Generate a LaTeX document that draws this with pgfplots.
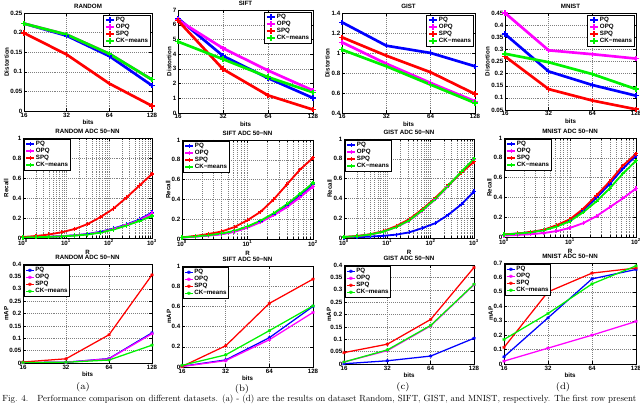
\documentclass[border=0pt]{standalone}
\usepackage{graphicx}
\usepackage{fontspec}
\usepackage{pgfplots}
\pgfplotsset{compat=1.18}
\newfontfamily\axfam{Liberation Sans}
\newcommand\axfont{\axfam\bfseries\fontsize{4.4}{5}\selectfont}
\definecolor{mblue}{rgb}{0,0,1}
\definecolor{mmag}{rgb}{1,0,1}
\definecolor{mred}{rgb}{1,0,0}
\definecolor{mgreen}{rgb}{0,0.95,0}

\tikzset{
  pq/.style={color=mblue}, opq/.style={color=mmag}, spq/.style={color=mred}, ck/.style={color=mgreen},
  ra/.style={line width=1.9pt, mark=+, mark size=1.9pt, mark options={line width=1.1pt}},
  rb/.style={line width=1.3pt, mark=+, mark size=1.5pt, mark options={line width=0.8pt}},
  rc/.style={line width=0.9pt, mark=asterisk, mark size=1.2pt, mark options={line width=0.6pt}},
}

\pgfplotsset{
  panel/.style={
    scale only axis, anchor=south west,
    font=\axfont,
    /pgf/number format/assume math mode=true,
    scaled ticks=false,
    yticklabel style={/pgf/number format/fixed, /pgf/number format/precision=2, inner sep=1pt},
    xticklabel style={inner sep=1pt},
    tick align=inside, major tick length=0.07cm, minor tick length=0.04cm,
    axis line style={line width=0.4pt},
    every tick/.style={black, line width=0.3pt},
    grid style={densely dotted, black!50, line width=0.3pt},
    every axis title/.style={at={(0.5,1)}, anchor=center, yshift=0.16cm, font=\axfont},
    every axis x label/.style={at={(axis description cs:0.5,0)}, anchor=center, yshift=-0.28cm, font=\axfont},
    legend style={draw=black, line width=0.3pt, fill=white, font=\axfont,
      inner sep=0.6pt, row sep=-0.8pt, nodes={inner sep=0.6pt}},
    legend cell align=left,
    legend image code/.code={\draw[mark repeat=2, mark phase=2, ##1]
      plot coordinates {(0cm,0cm) (0.1cm,0cm) (0.2cm,0cm)};},
  },
  ylab/.style={every axis y label/.style={at={(axis description cs:#1,0.5)},
      rotate=90, anchor=center, font=\axfont}},
  bitsax/.style={xmin=16, xmax=128,
    xtick={16,32,64,128}, xticklabels={16,32,64,128}, minor xtick={},
    xmajorgrids, ymajorgrids, xlabel={bits}},
  rkax/.style={xmin=1, xmax=1000, xtick={1,10,100,1000},
    xticklabels={10\textsuperscript{0},10\textsuperscript{1},10\textsuperscript{2},10\textsuperscript{3}},
    minor xtick={2,3,4,5,6,7,8,9,20,30,40,50,60,70,80,90,200,300,400,500,600,700,800,900},
    xmajorgrids, xminorgrids, ymajorgrids, xlabel={R},
    xlabel style={yshift=-0.07cm},
    ymin=0, ymax=1, ytick={0,0.2,0.4,0.6,0.8,1}},
  rhax/.style={xmin=1, xmax=100, xtick={1,10,100},
    xticklabels={10\textsuperscript{0},10\textsuperscript{1},10\textsuperscript{2}},
    minor xtick={2,3,4,5,6,7,8,9,20,30,40,50,60,70,80,90},
    xmajorgrids, xminorgrids, ymajorgrids, xlabel={R},
    xlabel style={yshift=-0.07cm},
    ymin=0, ymax=1, ytick={0,0.2,0.4,0.6,0.8,1}},
  legNE/.style={legend style={at={(1,1)}, anchor=north east, xshift=-0.05cm, yshift=-0.05cm}},
  legNW/.style={legend style={at={(0,1)}, anchor=north west, xshift=0.03cm, yshift=-0.03cm}},
}

\begin{document}
\begin{tikzpicture}
\useasboundingbox (0,0) rectangle (16cm,10.225cm);

% ---------------- row 1: distortion ----------------
\begin{axis}[panel, xmode=log, log basis x=2, bitsax, legNE, ylab=-0.135, at={(0.6cm,7.45cm)}, width=3.2cm, height=2.45cm,
  title={RANDOM}, ylabel={Distortion}, ymin=0, ymax=0.25, ytick={0,0.05,...,0.25}]
\addplot[pq,ra] coordinates {(16,0.223) (32,0.192) (64,0.140) (128,0.065)};
\addplot[opq,ra] coordinates {(16,0.223) (32,0.195) (64,0.146) (128,0.080)};
\addplot[spq,ra] coordinates {(16,0.199) (32,0.144) (64,0.070) (128,0.013)};
\addplot[ck,ra] coordinates {(16,0.223) (32,0.195) (64,0.146) (128,0.080)};
\legend{PQ,OPQ,SPQ,CK−means}
\end{axis}

\begin{axis}[panel, xmode=log, log basis x=2, bitsax, legNE, ylab=-0.065, at={(4.45cm,7.4cm)}, width=3.375cm, height=2.575cm,
  title={SIFT}, ylabel={Distortion}, ymin=0, ymax=7, ytick={0,1,...,7}]
\addplot[pq,ra] coordinates {(16,6.43) (32,3.88) (64,2.37) (128,1.02)};
\addplot[opq,ra] coordinates {(16,6.32) (32,4.40) (64,2.89) (128,1.53)};
\addplot[spq,ra] coordinates {(16,6.28) (32,2.98) (64,1.20) (128,0.23)};
\addplot[ck,ra] coordinates {(16,4.85) (32,3.66) (64,2.44) (128,1.40)};
\legend{PQ,OPQ,SPQ,CK−means}
\node[font=\axfont, anchor=south west, inner sep=0.5pt] at (rel axis cs:0.0,1) {x 10\textsuperscript{4}};
\end{axis}

\begin{axis}[panel, xmode=log, log basis x=2, bitsax, legNE, ylab=-0.11, at={(8.55cm,7.4cm)}, width=3.325cm, height=2.5cm,
  title={GIST}, ylabel={Distortion}, ymin=0.4, ymax=1.4, ytick={0.4,0.6,...,1.4}]
\addplot[pq,ra] coordinates {(16,1.307) (32,1.073) (64,1.0) (128,0.867)};
\addplot[opq,ra] coordinates {(16,1.107) (32,0.893) (64,0.70) (128,0.517)};
\addplot[spq,ra] coordinates {(16,1.157) (32,0.973) (64,0.807) (128,0.59)};
\addplot[ck,ra] coordinates {(16,1.033) (32,0.867) (64,0.683) (128,0.50)};
\legend{PQ,OPQ,SPQ,CK−means}
\end{axis}

\begin{axis}[panel, xmode=log, log basis x=2, bitsax, legNE, ylab=-0.135, at={(12.625cm,7.475cm)}, width=3.275cm, height=2.425cm,
  title={MNIST}, ylabel={Distortion}, ymin=0.05, ymax=0.45, ytick={0.05,0.1,...,0.46}]
\addplot[pq,ra] coordinates {(16,0.363) (32,0.209) (64,0.153) (128,0.109)};
\addplot[opq,ra] coordinates {(16,0.450) (32,0.296) (64,0.280) (128,0.262)};
\addplot[spq,ra] coordinates {(16,0.271) (32,0.136) (64,0.089) (128,0.053)};
\addplot[ck,ra] coordinates {(16,0.282) (32,0.247) (64,0.198) (128,0.136)};
\legend{PQ,OPQ,SPQ,CK−means}
\end{axis}

% ---------------- row 2: recall ----------------
\begin{axis}[panel, xmode=log, rkax, legNW, ylab=-0.13, at={(0.575cm,4.275cm)}, width=3.225cm, height=2.5cm,
  title={RANDOM ADC 50−NN}, ylabel={Recall}]
\addplot[pq,rb] coordinates {(1,0.005) (2,0.008) (4,0.012) (8,0.018) (16,0.027) (32,0.040) (64,0.062) (128,0.095) (256,0.135) (512,0.185) (1000,0.255)};
\addplot[opq,rb] coordinates {(1,0.005) (2,0.008) (4,0.012) (8,0.018) (16,0.026) (32,0.038) (64,0.059) (128,0.090) (256,0.130) (512,0.178) (1000,0.245)};
\addplot[spq,rb] coordinates {(1,0.010) (2,0.020) (4,0.035) (8,0.058) (16,0.090) (32,0.140) (64,0.210) (128,0.295) (256,0.405) (512,0.525) (1000,0.640)};
\addplot[ck,rb] coordinates {(1,0.005) (2,0.008) (4,0.011) (8,0.016) (16,0.024) (32,0.035) (64,0.054) (128,0.085) (256,0.125) (512,0.170) (1000,0.220)};
\legend{PQ,OPQ,SPQ,CK−means}
\end{axis}

\begin{axis}[panel, xmode=log, rhax, legNW, ylab=-0.105, at={(4.55cm,4.25cm)}, width=3.275cm, height=2.475cm,
  title={SIFT ADC 50−NN}, ylabel={Recall}]
\addplot[pq,rb] coordinates {(1,0.015) (1.585,0.025) (2.512,0.036) (3.981,0.050) (6.31,0.076) (10,0.120) (15.85,0.175) (25.12,0.250) (39.81,0.335) (63.1,0.440) (100,0.550)};
\addplot[opq,rb] coordinates {(1,0.014) (1.585,0.024) (2.512,0.035) (3.981,0.048) (6.31,0.072) (10,0.115) (15.85,0.170) (25.12,0.240) (39.81,0.320) (63.1,0.420) (100,0.530)};
\addplot[spq,rb] coordinates {(1,0.017) (1.585,0.030) (2.512,0.050) (3.981,0.075) (6.31,0.120) (10,0.190) (15.85,0.275) (25.12,0.400) (39.81,0.550) (63.1,0.700) (100,0.820)};
\addplot[ck,rb] coordinates {(1,0.016) (1.585,0.026) (2.512,0.038) (3.981,0.055) (6.31,0.082) (10,0.127) (15.85,0.185) (25.12,0.260) (39.81,0.350) (63.1,0.455) (100,0.565)};
\legend{PQ,OPQ,SPQ,CK−means}
\end{axis}

\begin{axis}[panel, xmode=log, rkax, legNW, ylab=-0.11, at={(8.6cm,4.275cm)}, width=3.25cm, height=2.475cm,
  title={GIST ADC 50−NN}, ylabel={Recall}]
\addplot[pq,rb] coordinates {(1,0.005) (2,0.009) (4,0.014) (8,0.022) (16,0.034) (32,0.057) (64,0.100) (128,0.150) (256,0.235) (512,0.340) (1000,0.470)};
\addplot[opq,rb] coordinates {(1,0.010) (2,0.019) (4,0.035) (8,0.062) (16,0.110) (32,0.175) (64,0.275) (128,0.390) (256,0.525) (512,0.665) (1000,0.790)};
\addplot[spq,rb] coordinates {(1,0.010) (2,0.020) (4,0.038) (8,0.068) (16,0.120) (32,0.190) (64,0.290) (128,0.405) (256,0.535) (512,0.660) (1000,0.770)};
\addplot[ck,rb] coordinates {(1,0.010) (2,0.019) (4,0.035) (8,0.063) (16,0.110) (32,0.178) (64,0.280) (128,0.395) (256,0.530) (512,0.670) (1000,0.800)};
\legend{PQ,OPQ,SPQ,CK−means}
\end{axis}

\begin{axis}[panel, xmode=log, rhax, legNW, ylab=-0.11, at={(12.6cm,4.3cm)}, width=3.3cm, height=2.475cm,
  title={MNIST ADC 50−NN}, ylabel={Recall}]
\addplot[pq,rb] coordinates {(1,0.025) (1.585,0.034) (2.512,0.048) (3.981,0.070) (6.31,0.112) (10,0.170) (15.85,0.270) (25.12,0.395) (39.81,0.535) (63.1,0.690) (100,0.820)};
\addplot[opq,rb] coordinates {(1,0.015) (1.585,0.020) (2.512,0.028) (3.981,0.040) (6.31,0.060) (10,0.092) (15.85,0.140) (25.12,0.210) (39.81,0.300) (63.1,0.390) (100,0.490)};
\addplot[spq,rb] coordinates {(1,0.027) (1.585,0.035) (2.512,0.050) (3.981,0.072) (6.31,0.120) (10,0.180) (15.85,0.285) (25.12,0.420) (39.81,0.560) (63.1,0.720) (100,0.840)};
\addplot[ck,rb] coordinates {(1,0.025) (1.585,0.033) (2.512,0.047) (3.981,0.068) (6.31,0.105) (10,0.160) (15.85,0.250) (25.12,0.360) (39.81,0.490) (63.1,0.640) (100,0.770)};
\legend{PQ,OPQ,SPQ,CK−means}
\end{axis}

% ---------------- row 3: mAP ----------------
\begin{axis}[panel, xmode=log, log basis x=2, bitsax, legNW, ylab=-0.13, at={(0.575cm,1.15cm)}, width=3.225cm, height=2.475cm,
  title={RANDOM ADC 50−NN}, ylabel={mAP}, ymin=0, ymax=0.4, ytick={0,0.05,...,0.41}]
\addplot[pq,rc] coordinates {(16,0.002) (32,0.003) (64,0.018) (128,0.122)};
\addplot[opq,rc] coordinates {(16,0.002) (32,0.003) (64,0.017) (128,0.118)};
\addplot[spq,rc] coordinates {(16,0.004) (32,0.017) (64,0.114) (128,0.356)};
\addplot[ck,rc] coordinates {(16,0.002) (32,0.003) (64,0.012) (128,0.072)};
\legend{PQ,OPQ,SPQ,CK−means}
\end{axis}

\begin{axis}[panel, xmode=log, log basis x=2, bitsax, legNW, ylab=-0.1, at={(4.55cm,1.05cm)}, width=3.275cm, height=2.525cm,
  title={SIFT ADC 50−NN}, ylabel={mAP}, ymin=0, ymax=1, ytick={0,0.2,...,1}]
\addplot[pq,rc] coordinates {(16,0.007) (32,0.070) (64,0.290) (128,0.600)};
\addplot[opq,rc] coordinates {(16,0.005) (32,0.063) (64,0.270) (128,0.540)};
\addplot[spq,rc] coordinates {(16,0.005) (32,0.210) (64,0.630) (128,0.870)};
\addplot[ck,rc] coordinates {(16,0.016) (32,0.120) (64,0.360) (128,0.605)};
\legend{PQ,OPQ,SPQ,CK−means}
\end{axis}

\begin{axis}[panel, xmode=log, log basis x=2, bitsax, legNW, ylab=-0.115, at={(8.6cm,1.125cm)}, width=3.25cm, height=2.475cm,
  title={GIST ADC 50−NN}, ylabel={mAP}, ymin=0, ymax=0.4, ytick={0,0.05,...,0.41}]
\addplot[pq,rc] coordinates {(16,0.001) (32,0.013) (64,0.032) (128,0.104)};
\addplot[opq,rc] coordinates {(16,0.008) (32,0.054) (64,0.154) (128,0.320)};
\addplot[spq,rc] coordinates {(16,0.046) (32,0.080) (64,0.180) (128,0.390)};
\addplot[ck,rc] coordinates {(16,0.008) (32,0.057) (64,0.156) (128,0.322)};
\legend{PQ,OPQ,SPQ,CK−means}
\end{axis}

\begin{axis}[panel, xmode=log, log basis x=2, bitsax, legNW, ylab=-0.1, at={(12.6cm,1.125cm)}, width=3.3cm, height=2.525cm,
  title={MNIST ADC 50−NN}, ylabel={mAP}, ymin=0, ymax=0.7, ytick={0,0.1,...,0.71}]
\addplot[pq,rc] coordinates {(16,0.050) (32,0.320) (64,0.590) (128,0.655)};
\addplot[opq,rc] coordinates {(16,0.020) (32,0.110) (64,0.200) (128,0.295)};
\addplot[spq,rc] coordinates {(16,0.115) (32,0.500) (64,0.630) (128,0.665)};
\addplot[ck,rc] coordinates {(16,0.170) (32,0.350) (64,0.555) (128,0.680)};
\legend{PQ,OPQ,SPQ,CK−means}
\end{axis}

% ---------------- captions ----------------
\node[font=\fontsize{6.7}{8}\selectfont] at (2.075cm,0.55cm) {(a)};
\node[font=\fontsize{6.7}{8}\selectfont] at (6.05cm,0.5cm) {(b)};
\node[font=\fontsize{6.7}{8}\selectfont] at (10.075cm,0.55cm) {(c)};
\node[font=\fontsize{6.7}{8}\selectfont] at (14.075cm,0.55cm) {(d)};
\node[anchor=base west, inner sep=0pt] at (0.05cm,0.19cm)
  {\resizebox{15.85cm}{!}{\fontsize{10}{12}\selectfont Fig. 4.\quad Performance comparison on different datasets. (a) - (d) are the results on dataset Random, SIFT, GIST, and MNIST, respectively. The first row present}};
\end{tikzpicture}
\end{document}
